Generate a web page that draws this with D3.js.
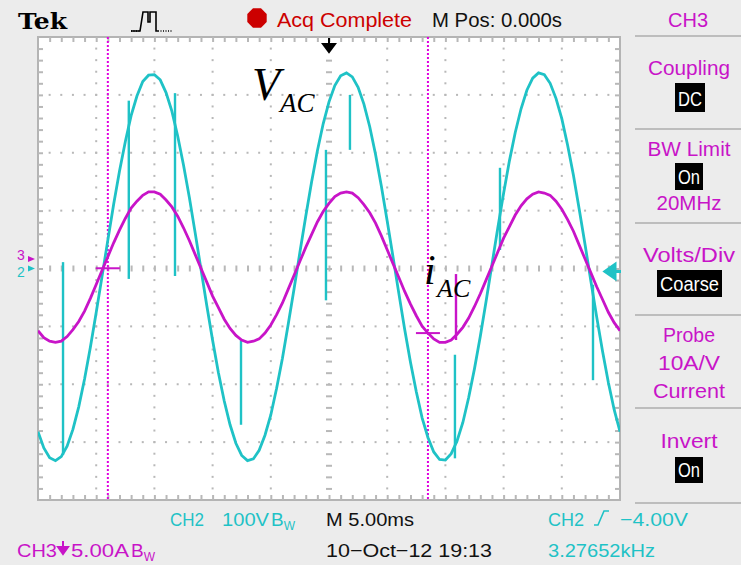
<!DOCTYPE html>
<html>
<head>
<meta charset="utf-8">
<script src="https://cdn.jsdelivr.net/npm/d3@7"></script>
<style>
  html, body { margin: 0; padding: 0; background: #ececec; }
  svg { display: block; }
  .ui { font-family: "Liberation Sans Narrow", "Liberation Sans", sans-serif; }
</style>
</head>
<body>
<script>
// horizontal: 10 div x 5 ms, samples every 0.5 ms
const timeDomain = [-25, 25];
const sampleStep = 0.5;

// CH2 (V_AC), volts
const vac = [
  -282, -310, -327, -332, -325, -307, -278, -239, -191, -136,
  -76, -14, 49, 111, 168, 219, 264, 298, 323, 334,
  335, 326, 304, 272, 229, 179, 123, 62, -1, -64,
  -124, -180, -229, -270, -302, -323, -332, -329, -314, -288,
  -253, -207, -155, -96, -35, 28, 90, 149, 203, 250,
  288, 316, 333, 338, 331, 313, 284, 245, 197, 142,
  82, 20, -43, -105, -162, -213, -258, -292, -317, -330,
  -331, -320, -298, -266, -223, -173, -117, -56, 7, 70,
  130, 186, 235, 276, 308, 329, 338, 335, 320, 294,
  259, 213, 161, 102, 41, -22, -84, -143, -197, -244,
  -282
];

// CH3 (i_AC), amps
const iac = [
  -6.2, -6.8, -7.1, -7.2, -7.1, -6.7, -6.1, -5.4, -4.5, -3.4,
  -2.2, -1.0, 0.2, 1.4, 2.5, 3.5, 4.4, 5.0, 5.5, 5.8,
  5.8, 5.6, 5.1, 4.5, 3.7, 2.7, 1.6, 0.4, -0.8, -2.0,
  -3.2, -4.2, -5.2, -6.0, -6.6, -7.0, -7.2, -7.1, -6.9, -6.4,
  -5.7, -4.8, -3.8, -2.6, -1.4, -0.2, 1.0, 2.1, 3.2, 4.1,
  4.8, 5.4, 5.7, 5.8, 5.7, 5.3, 4.7, 4.0, 3.1, 2.0,
  0.8, -0.4, -1.6, -2.8, -3.9, -4.9, -5.8, -6.4, -6.9, -7.2,
  -7.2, -7.0, -6.5, -5.9, -5.1, -4.1, -3.0, -1.8, -0.6, 0.6,
  1.8, 2.8, 3.8, 4.6, 5.2, 5.6, 5.8, 5.7, 5.5, 5.0,
  4.3, 3.4, 2.4, 1.2, 0.0, -1.2, -2.4, -3.5, -4.6, -5.5,
  -6.2
];

// glitch spikes [time ms, from, to]
const ch2Spikes = [
  [-22.85, 11, -322], [-17.2, 290, -18], [-13.23, 303, -13], [-7.56, -124, -270],
  [-0.26, 205, -55], [1.8, 300, 205], [10.82, -149, -328], [14.69, 174, 32], [22.68, -28, -193]
];
const ch3Spikes = [[10.91, -1.3, -7.0]];

// cursors (time ms) and their CH3 levels (A)
const cursorTimes = [-19.0, 8.5];
const cursorLevels = [-0.8, -6.4];

// channel settings
const ch2Scale = 100, ch2Pos = 0;      // V/div, div
const ch3Scale = 5, ch3Pos = 0.164;    // A/div, div

const teal = "#1fc2c6", magenta = "#c814c8", red = "#cc0000";

const W = 741, H = 565;
const plot = { left: 38, right: 620, top: 37, bottom: 500 };

const svg = d3.select("body").append("svg")
  .attr("width", W).attr("height", H);

svg.append("rect").attr("width", W).attr("height", H).attr("fill", "#ececec");

const x = d3.scaleLinear().domain(timeDomain).range([plot.left, plot.right]);
const y = d3.scaleLinear().domain([-4, 4]).range([plot.bottom, plot.top]);
const yV = v => y(ch2Pos + v / ch2Scale);
const yA = a => y(ch3Pos + a / ch3Scale);
const tAt = i => timeDomain[0] + i * sampleStep;

// screen
svg.append("rect")
  .attr("x", plot.left).attr("y", plot.top)
  .attr("width", plot.right - plot.left).attr("height", plot.bottom - plot.top)
  .attr("fill", "#fff").attr("stroke", "#b4b4b4").attr("stroke-width", 2);

svg.append("clipPath").attr("id", "clip").append("rect")
  .attr("x", plot.left).attr("y", plot.top)
  .attr("width", plot.right - plot.left).attr("height", plot.bottom - plot.top);

// graticule dots
const grid = svg.append("g").attr("fill", "#b8b8b8");
const minor = d3.range(-4, 4.01, 0.2).filter(d => Math.abs(d) < 3.99);
const minorT = d3.range(-24, 25, 1);
[-20, -15, -10, -5, 5, 10, 15, 20].forEach(t => {
  grid.selectAll(null).data(minor).join("rect")
    .attr("x", x(t) - 1).attr("y", d => y(d) - 1).attr("width", 2).attr("height", 2);
});
[-3, -2, -1, 1, 2, 3].forEach(dv => {
  grid.selectAll(null).data(minorT).join("rect")
    .attr("x", d => x(d) - 1).attr("y", y(dv) - 1).attr("width", 2).attr("height", 2);
});

// center line ticks and border ticks via axes
const tickStyle = g => {
  g.select(".domain").remove();
  g.selectAll("line").attr("stroke", "#b8b8b8").attr("stroke-width", 2);
};
svg.append("g").attr("transform", `translate(0,${y(0) - 3})`)
  .call(d3.axisBottom(x).tickValues(minorT).tickSize(6).tickFormat("")).call(tickStyle);
svg.append("g").attr("transform", `translate(${x(0) - 3},0)`)
  .call(d3.axisRight(y).tickValues(minor).tickSize(6).tickFormat("")).call(tickStyle);
svg.append("g").attr("transform", `translate(0,${plot.top})`)
  .call(d3.axisBottom(x).tickValues(minorT).tickSize(5).tickFormat("")).call(tickStyle);
svg.append("g").attr("transform", `translate(0,${plot.bottom})`)
  .call(d3.axisTop(x).tickValues(minorT).tickSize(5).tickFormat("")).call(tickStyle);
svg.append("g").attr("transform", `translate(${plot.left},0)`)
  .call(d3.axisRight(y).tickValues(minor).tickSize(5).tickFormat("")).call(tickStyle);
svg.append("g").attr("transform", `translate(${plot.right},0)`)
  .call(d3.axisLeft(y).tickValues(minor).tickSize(5).tickFormat("")).call(tickStyle);

const traces = svg.append("g").attr("clip-path", "url(#clip)");

// cursors
traces.selectAll(".cursor").data(cursorTimes).join("line")
  .attr("x1", d => x(d)).attr("x2", d => x(d))
  .attr("y1", plot.top).attr("y2", plot.bottom)
  .attr("stroke", "#e000e0").attr("stroke-width", 2).attr("stroke-dasharray", "2,2");

// CH2
const lineV = d3.line().x((d, i) => x(tAt(i))).y(d => yV(d));
traces.append("path").datum(vac).attr("d", lineV)
  .attr("fill", "none").attr("stroke", teal).attr("stroke-width", 2.8);
traces.selectAll(".sp2").data(ch2Spikes).join("line")
  .attr("x1", d => x(d[0])).attr("x2", d => x(d[0]))
  .attr("y1", d => yV(d[1])).attr("y2", d => yV(d[2]))
  .attr("stroke", teal).attr("stroke-width", 2.4);

// CH3
const lineA = d3.line().x((d, i) => x(tAt(i))).y(d => yA(d));
traces.append("path").datum(iac).attr("d", lineA)
  .attr("fill", "none").attr("stroke", magenta).attr("stroke-width", 2.8);
traces.selectAll(".sp3").data(ch3Spikes).join("line")
  .attr("x1", d => x(d[0])).attr("x2", d => x(d[0]))
  .attr("y1", d => yA(d[1])).attr("y2", d => yA(d[2]))
  .attr("stroke", magenta).attr("stroke-width", 2.4);

// cursor level bars
traces.selectAll(".clev").data(cursorTimes).join("line")
  .attr("x1", d => x(d) - 12).attr("x2", d => x(d) + 12)
  .attr("y1", (d, i) => yA(cursorLevels[i])).attr("y2", (d, i) => yA(cursorLevels[i]))
  .attr("stroke", magenta).attr("stroke-width", 2);

// trigger position arrow (top) and level arrow (right)
svg.append("path")
  .attr("d", `M${x(0)},${plot.top + 1}V${plot.top + 8}M${x(0) - 6},${plot.top + 7}H${x(0) + 6}L${x(0)},${plot.top + 15}Z`)
  .attr("stroke", "#000").attr("stroke-width", 2).attr("fill", "#000");
svg.append("path")
  .attr("d", `M${plot.right - 15},${y(-0.05)}l10,-7v14z M${plot.right - 6},${y(-0.05)}h7`)
  .attr("fill", teal).attr("stroke", teal).attr("stroke-width", 3);

// channel ground markers
const ui = svg.append("g").attr("class", "ui");
ui.append("text").attr("x", 17).attr("y", 260).attr("font-size", 14).attr("fill", magenta).text("3");
ui.append("path").attr("d", `M28,${y(ch3Pos) - 3}l7,3l-7,3z`).attr("fill", magenta);
ui.append("text").attr("x", 17).attr("y", 277).attr("font-size", 14).attr("fill", teal).text("2");
ui.append("path").attr("d", `M28,${y(ch2Pos) - 3}l7,3l-7,3z`).attr("fill", teal);

// header
svg.append("text").attr("x", 18).attr("y", 29)
  .attr("font-family", "DejaVu Serif").attr("font-weight", "bold").attr("font-size", 23)
  .attr("textLength", 49).attr("lengthAdjust", "spacingAndGlyphs").text("Tek");
svg.append("path").attr("d", "M131,31H140L143,12H148V22H150V12H156V31H158")
  .attr("fill", "none").attr("stroke", "#000").attr("stroke-width", 1.6);
svg.append("path").attr("d", "M158,31H172").attr("stroke", "#000").attr("stroke-width", 1.6).attr("stroke-dasharray", "1,1.5");
svg.append("path").attr("d", "M131,31H141").attr("stroke", "#000").attr("stroke-width", 1.6).attr("stroke-dasharray", "1,1.5");
svg.append("path")
  .attr("d", d3.range(8).map(k => { const a = Math.PI / 8 + k * Math.PI / 4; return (k ? "L" : "M") + (257 + 10.5 * Math.cos(a)) + "," + (18 + 10.5 * Math.sin(a)); }).join("") + "Z")
  .attr("fill", red);

const label = (txt, x0, y0, len, color, size, anchor) =>
  ui.append("text").attr("x", x0).attr("y", y0).attr("font-size", size || 21)
    .attr("fill", color).attr("text-anchor", anchor || "start")
    .attr("textLength", len).attr("lengthAdjust", "spacingAndGlyphs").text(txt);

// value with bandwidth-limit mark (B with subscript W)
const bwLabel = (txt, x0, y0, len, color) => {
  const t = ui.append("text").attr("x", x0).attr("y", y0).attr("font-size", 19).attr("fill", color);
  t.append("tspan").attr("textLength", len).attr("lengthAdjust", "spacingAndGlyphs").text(txt);
  t.append("tspan").attr("dx", 2).text("B");
  t.append("tspan").attr("font-size", 12).attr("dy", 4).text("W");
};

label("Acq Complete", 277, 27, 135, red);
label("M Pos: 0.000s", 432, 27, 130, "#111");
label("CH3", 668, 27, 40, magenta);

// side menu
const sep = [36, 129, 223, 315, 408, 503];
svg.selectAll(".sep").data(sep).join("line")
  .attr("x1", 635).attr("x2", W).attr("y1", d => d).attr("y2", d => d)
  .attr("stroke", "#bdbdbd").attr("stroke-width", 2);

const menu = [
  ["Coupling", 75, 82], ["BW Limit", 156, 83], ["20MHz", 210, 65], ["Volts/Div", 262, 92],
  ["Probe", 342, 52], ["10A/V", 370, 62], ["Current", 398, 72], ["Invert", 448, 57]
];
menu.forEach(m => label(m[0], 689, m[1], m[2], magenta, 21, "middle"));

const boxes = [["DC", 675, 83, 30, 29], ["On", 675, 163, 28, 27], ["Coarse", 657, 270, 65, 27], ["On", 675, 457, 28, 26]];
boxes.forEach(b => {
  ui.append("rect").attr("x", b[1]).attr("y", b[2]).attr("width", b[3]).attr("height", b[4]).attr("fill", "#000");
  label(b[0], b[1] + b[3] / 2, b[2] + b[4] - 6, b[3] - 6, "#fff", 20, "middle");
});

// status lines
label("CH2", 170, 526, 34, teal, 19);
bwLabel("100V", 222, 526, 47, teal);
label("M 5.00ms", 326, 526, 88, "#111", 19);
label("CH2", 548, 526, 36, teal, 19);
svg.append("path").attr("d", "M594,525H598L604,511H609").attr("fill", "none").attr("stroke", teal).attr("stroke-width", 1.6);
label("\u22124.00V", 620, 526, 68, teal, 19);

label("CH3", 17, 557, 40, magenta, 19);
svg.append("path").attr("d", "M63,541V550M58,547L63,554L68,547Z").attr("fill", magenta).attr("stroke", magenta).attr("stroke-width", 2);
bwLabel("5.00A", 71, 557, 58, magenta);
label("10\u2212Oct\u221212 19:13", 326, 557, 166, "#111", 19);
label("3.27652kHz", 548, 557, 107, teal, 19);

// annotations
const ann = svg.append("g").attr("font-family", "Liberation Serif, serif").attr("font-style", "italic").attr("fill", "#000");
ann.append("text").attr("x", 252).attr("y", 100).attr("font-size", 46).text("V");
ann.append("text").attr("x", 280).attr("y", 112).attr("font-size", 27).text("AC");
ann.append("text").attr("x", 424).attr("y", 284).attr("font-size", 42).text("i");
ann.append("text").attr("x", 437).attr("y", 297).attr("font-size", 26).text("AC");
</script>
</body>
</html>
